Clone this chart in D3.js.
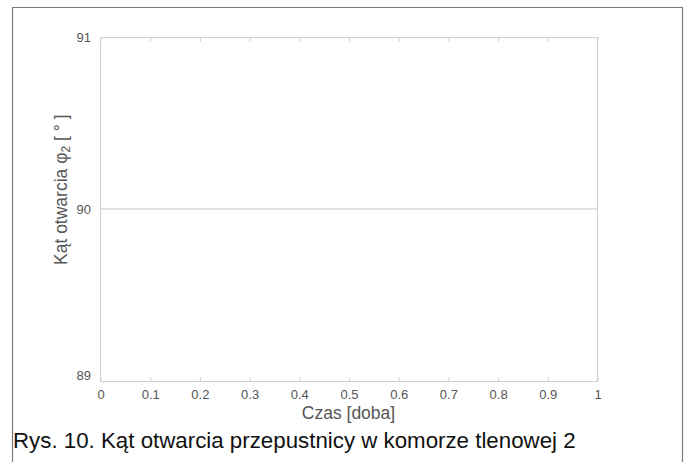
<!DOCTYPE html>
<html>
<head>
<meta charset="utf-8">
<script src="https://cdn.jsdelivr.net/npm/d3@7/dist/d3.min.js"></script>
<style>
html,body{margin:0;padding:0;background:#fff;}
svg text{font-family:"Liberation Sans",Arial,sans-serif;}
</style>
</head>
<body>
<svg id="chart" width="688" height="462"></svg>
<script>
// Data
const timeDays = [0, 1];
const angleValues = [90, 90];
const xTicks = [0, 0.1, 0.2, 0.3, 0.4, 0.5, 0.6, 0.7, 0.8, 0.9, 1];
const yTicks = [89, 90, 91];
const xLabel = "Czas [doba]";
const caption = "Rys. 10. Kąt otwarcia przepustnicy w komorze tlenowej 2";

const svg = d3.select("#chart");
const W = 688, H = 462;
const m = {left: 100, right: 91, top: 37, bottom: 81};
const x = d3.scaleLinear().domain([0, 1]).range([m.left, W - m.right]);
const y = d3.scaleLinear().domain([89, 91]).range([H - m.bottom, m.top]);

// outer frame (no bottom edge)
svg.append("path")
  .attr("d", `M12.5,${H} V7.5 H682.5 V${H}`)
  .attr("fill", "none").attr("stroke", "#7a7a7a").attr("stroke-width", 1.2);

const axColor = "#cfcfcf";
const txtColor = "#555";

// plot box
svg.append("rect")
  .attr("x", x(0) + 0.5).attr("y", y(91) + 0.5)
  .attr("width", x(1) - x(0)).attr("height", y(89) - y(91))
  .attr("fill", "none").attr("stroke", axColor).attr("stroke-width", 1);

// top ticks (inward)
const topAxis = d3.axisTop(x).tickValues(xTicks).tickSize(-4).tickFormat("");
const gt = svg.append("g").attr("transform", `translate(0.5,${y(91) + 0.5})`).call(topAxis);
gt.select(".domain").remove();
gt.selectAll("line").attr("stroke", axColor);

// bottom axis labels
const bottomAxis = d3.axisBottom(x).tickValues(xTicks).tickSize(-4)
  .tickFormat(d => d === 0 ? "0" : d === 1 ? "1" : d3.format(".1f")(d));
const gb = svg.append("g").attr("transform", `translate(0.5,${y(89) + 0.5})`).call(bottomAxis);
gb.select(".domain").remove();
gb.selectAll("line").attr("stroke", axColor);
gb.selectAll("text").attr("fill", txtColor).attr("font-size", 13)
  .attr("font-family", "Liberation Sans, Arial, sans-serif").attr("dy", "1.0em").attr("y", 4);

// left axis labels
const leftAxis = d3.axisLeft(y).tickValues(yTicks).tickSize(0).tickFormat(d3.format("d"));
const gl = svg.append("g").attr("transform", `translate(${x(0)},0)`).call(leftAxis);
gl.select(".domain").remove();
gl.selectAll("text").attr("fill", txtColor).attr("font-size", 13)
  .attr("font-family", "Liberation Sans, Arial, sans-serif").attr("x", -9);
gl.selectAll(".tick").filter(d => d === 89).select("text").attr("dy", "-0.1em");

// data line
const line = d3.line().x((d, i) => x(timeDays[i])).y(d => y(d));
svg.append("path").datum(angleValues)
  .attr("d", line).attr("fill", "none").attr("stroke", "#c4c4c4").attr("stroke-width", 1.2);

// axis labels
svg.append("text").attr("x", (x(0) + x(1)) / 2).attr("y", H - m.bottom + 38)
  .attr("text-anchor", "middle").attr("font-size", 17.5).attr("fill", txtColor).text(xLabel);

const yl = svg.append("text")
  .attr("transform", `translate(67,265) rotate(-90)`)
  .attr("text-anchor", "start").attr("font-size", 17.5).attr("fill", txtColor);
yl.append("tspan").text("Kąt otwarcia φ");
yl.append("tspan").attr("font-size", 12).attr("dy", 3).text("2");
yl.append("tspan").attr("dy", -3).text(" [ ° ]");

// caption
svg.append("text").attr("x", 13).attr("y", H - 14)
  .attr("font-size", 22.3).attr("fill", "#111").text(caption);
</script>
</body>
</html>
